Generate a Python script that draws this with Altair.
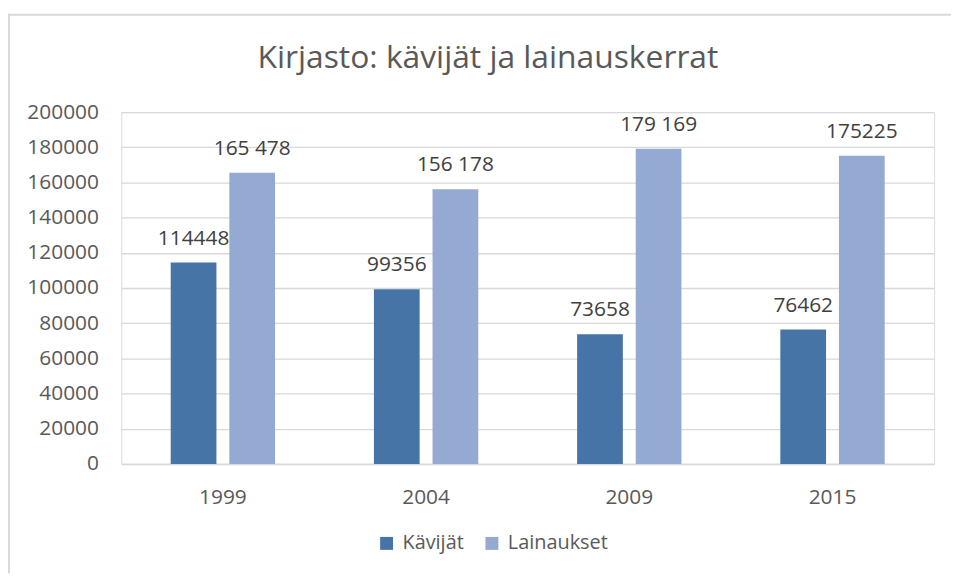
import altair as alt
import pandas as pd

title_text = "Kirjasto: kävijät ja lainauskerrat"
years = ["1999", "2004", "2009", "2015"]
series = ["Kävijät", "Lainaukset"]
kavijat = [114448, 99356, 73658, 76462]
lainaukset = [165478, 156178, 179169, 175225]
kavijat_labels = ["114448", "99356", "73658", "76462"]
lainaukset_labels = ["165 478", "156 178", "179 169", "175225"]
y_ticks = [0, 20000, 40000, 60000, 80000, 100000, 120000, 140000, 160000, 180000, 200000]
colors = ["#4674A6", "#95AAD2"]

rows = []
for i, yr in enumerate(years):
    rows.append({"year": yr, "series": series[0], "value": kavijat[i], "label": kavijat_labels[i]})
    rows.append({"year": yr, "series": series[1], "value": lainaukset[i], "label": lainaukset_labels[i]})
df = pd.DataFrame(rows)

FONT = "Open Sans"
FS = 21
W, H = 818, 354
PAD = {"left": 114, "top": 103, "right": 17, "bottom": 110}

x = alt.X("year:N", sort=years, title=None,
          scale=alt.Scale(paddingInner=0, paddingOuter=0),
          axis=alt.Axis(labelAngle=0, labelFontSize=FS, labelColor="#595959", labelFont=FONT,
                        labelPadding=23, ticks=False, domainColor="#d9d9d9", domainWidth=1.5,
                        grid=False))
xoff = alt.XOffset("series:N", sort=series,
                   scale=alt.Scale(paddingInner=0.22, paddingOuter=0.843))
y = alt.Y("value:Q", title=None,
          scale=alt.Scale(domain=[0, 200000], nice=False),
          axis=alt.Axis(values=y_ticks, tickCount=11, format="d", labelFontSize=FS,
                        labelColor="#595959", labelFont=FONT, labelPadding=23, ticks=False,
                        domain=False, labelOverlap=False, gridColor="#d9d9d9", gridWidth=1.3))
color = alt.Color("series:N", sort=series,
                  scale=alt.Scale(domain=series, range=colors),
                  legend=alt.Legend(title=None, orient="none", direction="horizontal",
                                    legendX=257, legendY=424, symbolType="square",
                                    symbolSize=169, symbolStrokeWidth=0, labelFontSize=20,
                                    labelFont=FONT, labelColor="#595959", labelOffset=6,
                                    columnPadding=18))

bars = alt.Chart(df).mark_bar().encode(x=x, xOffset=xoff, y=y, color=color)

labels = alt.Chart(df).mark_text(baseline="alphabetic", dy=-18, fontSize=FS, font=FONT,
                                 color="#404040").encode(
    x=x, xOffset=xoff, y=y, text="label:N")

deco_df = pd.DataFrame({"t": [title_text]})
border_left = alt.Chart(deco_df).mark_rule(color="#d9d9d9", strokeWidth=2).encode(
    x=alt.value(-113), y=alt.value(-99), y2=alt.value(H + PAD["bottom"]))
border_top = alt.Chart(deco_df).mark_rule(color="#d9d9d9", strokeWidth=2).encode(
    x=alt.value(-114), x2=alt.value(W + PAD["right"]), y=alt.value(-98))

title = alt.Chart(deco_df).mark_text(fontSize=32, font=FONT, color="#595959",
                                     align="center", baseline="alphabetic").encode(
    x=alt.value(W / 2 - 40), y=alt.value(-44), text="t:N")

chart = alt.layer(border_left, border_top, bars, labels, title).properties(
    width=W, height=H,
    autosize=alt.AutoSizeParams(type="none"),
    padding=PAD,
).configure_view(stroke=None).configure(background="white")

chart.save("out.html", embed_options={"renderer": "svg", "actions": False})
